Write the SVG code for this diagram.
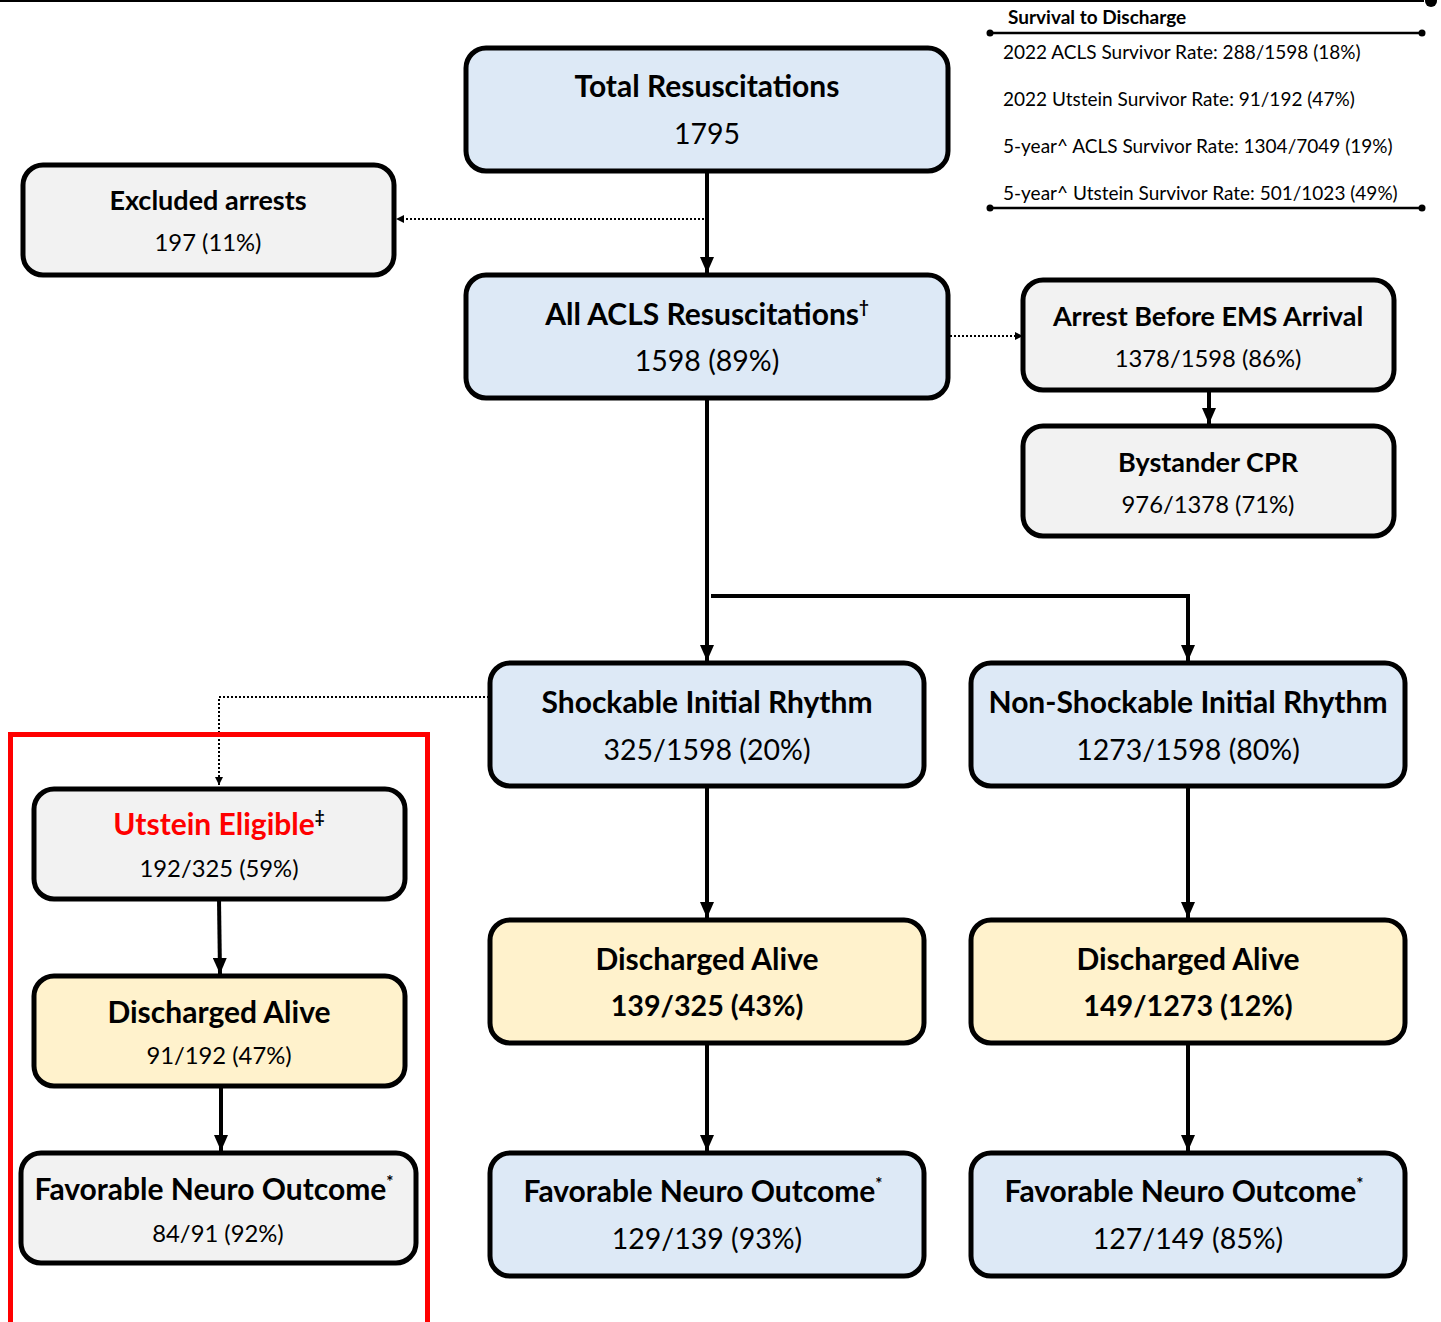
<svg xmlns="http://www.w3.org/2000/svg" width="1441" height="1322" viewBox="0 0 1441 1322">
<defs>
<marker id="ah" markerUnits="userSpaceOnUse" markerWidth="16" markerHeight="14" refX="16" refY="7" orient="auto"><path d="M0,0 L16,7 L0,14 Z" fill="#000"/></marker>
<marker id="as" markerUnits="userSpaceOnUse" markerWidth="8" markerHeight="8" refX="8" refY="4" orient="auto"><path d="M0,0 L8,4 L0,8 Z" fill="#000"/></marker>
<marker id="dot" markerUnits="userSpaceOnUse" markerWidth="8" markerHeight="8" refX="4" refY="4"><circle cx="4" cy="4" r="3.5" fill="#000"/></marker>
</defs>
<style>
text{font-family:Lato,"Open Sans","Liberation Sans",sans-serif;fill:#000;text-anchor:middle}
.box{stroke:#000;stroke-width:5}
.blue{fill:#dde9f6}
.gray{fill:#f2f2f2}
.yel{fill:#fff2cc}
.t{font-weight:bold;font-size:30px}
.n{font-size:28.5px}
.nb{font-weight:bold;font-size:28.7px}
.ts{font-weight:bold;font-size:27px}
.ns{font-size:23.8px}
.sup{font-size:17px;font-weight:bold}
.c{stroke:#000;stroke-width:4;fill:none}
.d{stroke:#000;stroke-width:2;fill:none;stroke-dasharray:2 2}
.lg{font-size:19px;text-anchor:start}
</style>
<rect width="1441" height="1322" fill="#fff"/>
<line x1="0" y1="1" x2="1424" y2="1" stroke="#000" stroke-width="2"/>
<circle cx="1431" cy="1" r="6" fill="#000"/>

<g id="legend">
<text class="lg" x="1008" y="24" font-weight="bold" font-size="19.7">Survival to Discharge</text>
<line x1="990" y1="33" x2="1422" y2="33" stroke="#000" stroke-width="2.5" marker-start="url(#dot)" marker-end="url(#dot)"/>
<text class="lg" x="1003" y="59">2022 ACLS Survivor Rate: 288/1598 (18%)</text>
<text class="lg" x="1003" y="106">2022 Utstein Survivor Rate: 91/192 (47%)</text>
<text class="lg" x="1003" y="153">5-year^ ACLS Survivor Rate: 1304/7049 (19%)</text>
<text class="lg" x="1003" y="200">5-year^ Utstein Survivor Rate: 501/1023 (49%)</text>
<line x1="990" y1="208" x2="1422" y2="208" stroke="#000" stroke-width="2.5" marker-start="url(#dot)" marker-end="url(#dot)"/>
</g>

<g id="connectors">
<line class="c" x1="707" y1="171" x2="707" y2="273" marker-end="url(#ah)"/>
<line class="d" x1="704" y1="219" x2="396" y2="219" marker-end="url(#as)"/>
<line class="d" x1="950" y1="336" x2="1023" y2="336" marker-end="url(#as)"/>
<line class="c" x1="1209" y1="391" x2="1209" y2="424" marker-end="url(#ah)"/>
<line class="c" x1="707" y1="398" x2="707" y2="661" marker-end="url(#ah)"/>
<polyline class="c" points="711,596 1188,596 1188,661" marker-end="url(#ah)"/>
<polyline class="d" points="489,697 219,697 219,785" marker-end="url(#as)"/>
<line class="c" x1="219" y1="899" x2="220" y2="974" marker-end="url(#ah)"/>
<line class="c" x1="221" y1="1086" x2="221" y2="1151" marker-end="url(#ah)"/>
<line class="c" x1="707" y1="787" x2="707" y2="918" marker-end="url(#ah)"/>
<line class="c" x1="707" y1="1043" x2="707" y2="1151" marker-end="url(#ah)"/>
<line class="c" x1="1188" y1="787" x2="1188" y2="918" marker-end="url(#ah)"/>
<line class="c" x1="1188" y1="1043" x2="1188" y2="1151" marker-end="url(#ah)"/>
</g>

<rect id="utstein-frame" x="10.5" y="734.5" width="417" height="600" fill="none" stroke="#ff0000" stroke-width="5"/>

<g id="total">
<rect class="box blue" x="466" y="48" width="482" height="123" rx="20"/>
<text class="t" x="707" y="97">Total Resuscitations</text>
<text class="n" x="707" y="144">1795</text>
</g>
<g id="excluded">
<rect class="box gray" x="23" y="165" width="371" height="110" rx="20"/>
<text class="ts" x="208" y="210">Excluded arrests</text>
<text class="ns" x="208" y="251">197 (11%)</text>
</g>
<g id="acls">
<rect class="box blue" x="466" y="275" width="482" height="123" rx="20"/>
<text class="t" x="707" y="325">All ACLS Resuscitations<tspan class="sup" dy="-12">†</tspan></text>
<text class="n" x="707" y="371">1598 (89%)</text>
</g>
<g id="arrest-ems">
<rect class="box gray" x="1023" y="280" width="371" height="110" rx="20"/>
<text class="ts" x="1208" y="326">Arrest Before EMS Arrival</text>
<text class="ns" x="1208" y="367">1378/1598 (86%)</text>
</g>
<g id="bystander">
<rect class="box gray" x="1023" y="426" width="371" height="110" rx="20"/>
<text class="ts" x="1208" y="472">Bystander CPR</text>
<text class="ns" x="1208" y="513">976/1378 (71%)</text>
</g>
<g id="shockable">
<rect class="box blue" x="490" y="663" width="434" height="123" rx="20"/>
<text class="t" x="707" y="713">Shockable Initial Rhythm</text>
<text class="n" x="707" y="760">325/1598 (20%)</text>
</g>
<g id="nonshockable">
<rect class="box blue" x="971" y="663" width="434" height="123" rx="20"/>
<text class="t" x="1188" y="713">Non-Shockable Initial Rhythm</text>
<text class="n" x="1188" y="760">1273/1598 (80%)</text>
</g>
<g id="utstein">
<rect class="box gray" x="34" y="789" width="371" height="110" rx="20"/>
<text class="t" x="219" y="835"><tspan fill="#ff0000">Utstein Eligible</tspan><tspan class="sup" dy="-12">‡</tspan></text>
<text class="ns" x="219" y="877">192/325 (59%)</text>
</g>
<g id="discharged-utstein">
<rect class="box yel" x="34" y="976" width="371" height="110" rx="20"/>
<text class="t" x="219" y="1023">Discharged Alive</text>
<text class="ns" x="219" y="1064">91/192 (47%)</text>
</g>
<g id="neuro-utstein">
<rect class="box gray" x="21" y="1153" width="395" height="110" rx="20"/>
<text class="t" x="214" y="1200">Favorable Neuro Outcome<tspan class="sup" dy="-12">*</tspan></text>
<text class="ns" x="218" y="1242">84/91 (92%)</text>
</g>
<g id="discharged-shock">
<rect class="box yel" x="490" y="920" width="434" height="123" rx="20"/>
<text class="t" x="707" y="970">Discharged Alive</text>
<text class="nb" x="707" y="1016">139/325 (43%)</text>
</g>
<g id="discharged-nonshock">
<rect class="box yel" x="971" y="920" width="434" height="123" rx="20"/>
<text class="t" x="1188" y="970">Discharged Alive</text>
<text class="nb" x="1188" y="1016">149/1273 (12%)</text>
</g>
<g id="neuro-shock">
<rect class="box blue" x="490" y="1153" width="434" height="123" rx="20"/>
<text class="t" x="703" y="1202">Favorable Neuro Outcome<tspan class="sup" dy="-12">*</tspan></text>
<text class="n" x="707" y="1249">129/139 (93%)</text>
</g>
<g id="neuro-nonshock">
<rect class="box blue" x="971" y="1153" width="434" height="123" rx="20"/>
<text class="t" x="1184" y="1202">Favorable Neuro Outcome<tspan class="sup" dy="-12">*</tspan></text>
<text class="n" x="1188" y="1249">127/149 (85%)</text>
</g>
</svg>
